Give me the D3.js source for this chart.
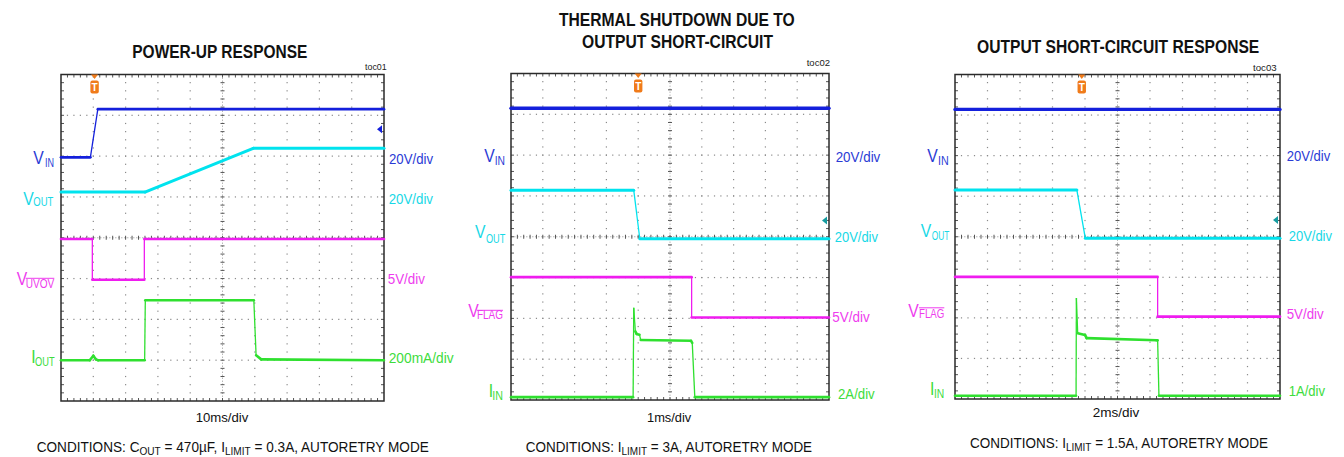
<!DOCTYPE html>
<html><head><meta charset="utf-8">
<script src="https://cdn.jsdelivr.net/npm/d3@7"></script>
<style>html,body{margin:0;padding:0;background:#fff;}svg{display:block;}</style>
</head><body>
<svg id="c" width="1344" height="457"></svg>
<script>
// ================= DATA =================
const titles1 = ["POWER-UP RESPONSE"];
const titles2 = ["THERMAL SHUTDOWN DUE TO", "OUTPUT SHORT-CIRCUIT"];
const titles3 = ["OUTPUT SHORT-CIRCUIT RESPONSE"];
const tocLabels = ["toc01", "toc02", "toc03"];
const timeLabels = ["10ms/div", "1ms/div", "2ms/div"];
const msPerDiv = [10, 1, 2];
const trigTimes = [10.4, 4.0, 7.8];          // ms
const offsetLevels = [6.66, 4.4, 4.41];      // divisions from bottom

const leftLabels1 = [["V","IN"],["V","OUT"],["V","UVOV"],["I","OUT"]];
const leftLabels2 = [["V","IN"],["V","OUT"],["V","FLAG"],["I","IN"]];
const leftLabels3 = [["V","IN"],["V","OUT"],["V","FLAG"],["I","IN"]];
const rightLabels1 = ["20V/div","20V/div","5V/div","200mA/div"];
const rightLabels2 = ["20V/div","20V/div","5V/div","2A/div"];
const rightLabels3 = ["20V/div","20V/div","5V/div","1A/div"];

const cond1 = [["CONDITIONS: C",0],["OUT",1],[" = 470µF, I",0],["LIMIT",1],[" = 0.3A, AUTORETRY MODE",0]];
const cond2 = [["CONDITIONS: I",0],["LIMIT",1],[" = 3A, AUTORETRY MODE",0]];
const cond3 = [["CONDITIONS: I",0],["LIMIT",1],[" = 1.5A, AUTORETRY MODE",0]];

// traces: [time ms, level in screen divisions above bottom edge]
const p1_vin  = [[0,5.97],[9.1,5.97],[11.4,7.15],[100,7.15]];
const p1_vout = [[0,5.12],[26.0,5.12],[59.5,6.19],[100,6.19]];
const p1_uvov = [[0,3.97],[9.7,3.97],[9.7,2.97],[25.8,2.97],[25.8,3.97],[100,3.97]];
const p1_iout = [[0,1.0],[8.9,1.0],[10.0,1.11],[10.8,1.02],[11.5,1.0],[25.9,1.0],[26.1,2.47],[59.7,2.47],[60.4,1.12],[62,1.02],[100,1.0]];

const p2_vin  = [[0,7.15],[10,7.15]];
const p2_vout = [[0,5.14],[3.86,5.14],[4.05,3.95],[10,3.95]];
const p2_flag = [[0,3.01],[5.68,3.01],[5.68,2.02],[10,2.02]];
const p2_iin  = [[0,0.07],[3.84,0.07],[3.86,2.26],[3.91,1.68],[3.95,1.62],[4.04,1.6],[4.08,1.47],[5.66,1.45],[5.70,1.40],[5.78,0.07],[10,0.07]];

const p3_vin  = [[0,7.14],[20,7.14]];
const p3_vout = [[0,5.15],[7.5,5.15],[8.02,3.96],[20,3.96]];
const p3_flag = [[0,3.01],[12.47,3.01],[12.47,2.03],[20,2.03]];
const p3_iin  = [[0,0.08],[7.45,0.08],[7.47,2.49],[7.55,1.62],[8.0,1.58],[8.1,1.5],[12.4,1.45],[12.47,1.45],[12.55,0.08],[20,0.08]];

// ================= STYLE / LAYOUT =================
const FONT = "'Liberation Sans', Arial, Helvetica, sans-serif";
const C = {blueT:"#1420dc", blueL:"#2a3bd5", cyanT:"#00e3ee", cyanL:"#18d8e6",
           magT:"#ef1cef", magL:"#ee3cee", greenT:"#2fe02f", greenL:"#3ddc3d",
           orange:"#f07b1a", teal:"#149ca0"};
const svg = d3.select("#c");

const panels = [
 { box:{l:61,r:384,t:74.5,b:401}, ms:msPerDiv[0],
   traces:[[p1_vin,C.blueT,2.7],[p1_vout,C.cyanT,3],[p1_uvov,C.magT,2.6],[p1_iout,C.greenT,2.6]],
   trig:trigTimes[0], arrow:{lvl:offsetLevels[0], c:C.blueT},
   titles:[{s:titles1[0], x:132.3, w:175, y:58.3}],
   toc:{s:tocLabels[0], x:365, w:21.7, y:70},
   left:[{lab:leftLabels1[0], bx:33.3, by:164, sx:45, sw:9, sy:166.7, c:C.blueL},
         {lab:leftLabels1[1], bx:23.3, by:205, sx:33.3, sw:20, sy:205.7, c:C.cyanL},
         {lab:leftLabels1[2], bx:16.7, by:285, sx:25.7, sw:28.6, sy:288.3, oy:278.3, c:C.magL},
         {lab:leftLabels1[3], bx:31.2, by:363.3, sx:35, sw:19.6, sy:365.7, c:C.greenL}],
   right:[{s:rightLabels1[0], x:389, w:44, y:164, c:C.blueL},
          {s:rightLabels1[1], x:388.7, w:44.3, y:204.3, c:C.cyanL},
          {s:rightLabels1[2], x:387.7, w:37.3, y:284, c:C.magL},
          {s:rightLabels1[3], x:388.7, w:65, y:362.7, c:C.greenL}],
   time:{s:timeLabels[0], x:195.7, w:52.6, y:422.3},
   cond:{parts:cond1, x:36.7, w:392.3, y:452}
 },
 { box:{l:511,r:829,t:73.5,b:400}, ms:msPerDiv[1],
   traces:[[p2_vin,C.blueT,3.4],[p2_vout,C.cyanT,3],[p2_flag,C.magT,2.6],[p2_iin,C.greenT,2.6]],
   trig:trigTimes[1], arrow:{lvl:offsetLevels[1], c:C.teal},
   titles:[{s:titles2[0], x:559, w:235.7, y:25.7},{s:titles2[1], x:582, w:191, y:47.7}],
   toc:{s:tocLabels[1], x:806.7, w:23.3, y:65.5},
   left:[{lab:leftLabels2[0], bx:484.2, by:161.7, sx:494.7, sw:10.3, sy:165, c:C.blueL},
         {lab:leftLabels2[1], bx:475, by:238.3, sx:486, sw:19.3, sy:242.7, c:C.cyanL},
         {lab:leftLabels2[2], bx:468.2, by:316.7, sx:477, sw:26, sy:319.3, oy:310.3, c:C.magL},
         {lab:leftLabels2[3], bx:488.7, by:397.3, sx:492.3, sw:10.7, sy:400, c:C.greenL}],
   right:[{s:rightLabels2[0], x:835.7, w:44.6, y:162.3, c:C.blueL},
          {s:rightLabels2[1], x:834.7, w:43.3, y:241.7, c:C.cyanL},
          {s:rightLabels2[2], x:832.3, w:37.4, y:322.3, c:C.magL},
          {s:rightLabels2[3], x:838, w:36.7, y:399, c:C.greenL}],
   time:{s:timeLabels[1], x:647, w:44.3, y:422.3},
   cond:{parts:cond2, x:525.7, w:286.6, y:452.3}
 },
 { box:{l:955,r:1280,t:74.5,b:399}, ms:msPerDiv[2],
   traces:[[p3_vin,C.blueT,3.4],[p3_vout,C.cyanT,3],[p3_flag,C.magT,2.6],[p3_iin,C.greenT,2.6]],
   trig:trigTimes[2], arrow:{lvl:offsetLevels[2], c:C.teal},
   titles:[{s:titles3[0], x:977, w:282.3, y:53.3}],
   toc:{s:tocLabels[2], x:1253, w:23.7, y:70.5},
   left:[{lab:leftLabels3[0], bx:927.2, by:161.7, sx:938, sw:10.7, sy:165, c:C.blueL},
         {lab:leftLabels3[1], bx:920.7, by:236.7, sx:931.7, sw:17.6, sy:240, c:C.cyanL},
         {lab:leftLabels3[2], bx:908.2, by:316.7, sx:919, sw:25.3, sy:317.8, oy:307.8, c:C.magL},
         {lab:leftLabels3[3], bx:930, by:395, sx:934, sw:10.3, sy:397.7, c:C.greenL}],
   right:[{s:rightLabels3[0], x:1286.7, w:43.6, y:160.7, c:C.blueL},
          {s:rightLabels3[1], x:1288.7, w:43.3, y:240.7, c:C.cyanL},
          {s:rightLabels3[2], x:1286.7, w:37, y:319, c:C.magL},
          {s:rightLabels3[3], x:1288.7, w:36.3, y:396, c:C.greenL}],
   time:{s:timeLabels[2], x:1092.7, w:46.6, y:416.7},
   cond:{parts:cond3, x:970, w:298.3, y:447.7}
 }
];

function fitText(g, s, x, y, w, size, color, weight) {
  const t = g.append("text").attr("x", x).attr("y", y).text(s)
    .attr("font-family", FONT).attr("font-size", size).attr("fill", color)
    .attr("font-weight", weight || "normal");
  if (w) t.attr("textLength", w).attr("lengthAdjust", "spacingAndGlyphs");
  return t;
}

function drawGrid(g, xs, ys) {
  const x0 = xs.range()[0], x1 = xs.range()[1];
  const yb = ys(0), yt = ys(8);
  const dx = (x1 - x0) / 10, dy = (yb - yt) / 8;
  const dots = [];
  for (let i = 1; i < 10; i++) { if (i === 5) continue; for (let j = 1; j < 40; j++) dots.push([x0 + i*dx, yt + j*dy/5]); }
  for (let k = 1; k < 8; k++) { if (k === 4) continue; for (let j = 1; j < 50; j++) dots.push([x0 + j*dx/5, yt + k*dy]); }
  g.append("g").selectAll("rect").data(dots).join("rect")
    .attr("x", d => d[0]-0.6).attr("y", d => d[1]-0.6).attr("width", 1.2).attr("height", 1.2).attr("fill", "#8a8a8a");
  const cx = x0 + 5*dx, cy = yt + 4*dy;
  g.append("line").attr("x1", cx).attr("x2", cx).attr("y1", yt).attr("y2", yb)
    .attr("stroke", "#b8b8b8").attr("stroke-width", 1).attr("stroke-dasharray", "1.5,1.5");
  g.append("line").attr("x1", x0).attr("x2", x1).attr("y1", cy).attr("y2", cy)
    .attr("stroke", "#b8b8b8").attr("stroke-width", 1).attr("stroke-dasharray", "1.5,1.5");
  const tk = g.append("g").attr("stroke", "#555").attr("stroke-width", 1);
  for (let j = 1; j < 40; j++) {
    const y = yt + j*dy/5;
    tk.append("line").attr("x1", cx-2).attr("x2", cx+2).attr("y1", y).attr("y2", y);
    tk.append("line").attr("x1", x0).attr("x2", x0+3).attr("y1", y).attr("y2", y);
    tk.append("line").attr("x1", x1-3).attr("x2", x1).attr("y1", y).attr("y2", y);
  }
  for (let j = 1; j < 50; j++) {
    const x = x0 + j*dx/5;
    tk.append("line").attr("x1", x).attr("x2", x).attr("y1", cy-2).attr("y2", cy+2);
    tk.append("line").attr("x1", x).attr("x2", x).attr("y1", yt).attr("y2", yt+3);
    tk.append("line").attr("x1", x).attr("x2", x).attr("y1", yb-3).attr("y2", yb);
  }
  g.append("rect").attr("x", x0).attr("y", yt).attr("width", x1-x0).attr("height", yb-yt)
    .attr("fill", "none").attr("stroke", "#2a2a2a").attr("stroke-width", 1.5);
}

function drawTrace(g, data, xs, ys, color, w) {
  const segs = d3.pairs(data);
  segs.forEach(([a, b]) => {
    const X1 = xs(a[0]), Y1 = ys(a[1]), X2 = xs(b[0]), Y2 = ys(b[1]);
    const steep = Math.abs(Y2 - Y1) > 3 * Math.max(Math.abs(X2 - X1), 0.01);
    g.append("line").attr("x1", X1).attr("y1", Y1).attr("x2", X2).attr("y2", Y2)
      .attr("stroke", color).attr("stroke-width", steep ? 1.3 : w)
      .attr("stroke-linecap", steep ? "butt" : "round");
  });
}

panels.forEach(p => {
  const g = svg.append("g");
  const xs = d3.scaleLinear().domain([0, 10 * p.ms]).range([p.box.l, p.box.r]);
  const ys = d3.scaleLinear().domain([0, 8]).range([p.box.b, p.box.t]);
  drawGrid(g, xs, ys);
  p.traces.forEach(([d, c, w]) => drawTrace(g, d, xs, ys, c, w));

  const tx = xs(p.trig), tt = ys(8);
  g.append("path").attr("d", `M${tx-3.5},${tt} L${tx+3.5},${tt} L${tx},${tt+4.5} Z`).attr("fill", C.orange);
  g.append("rect").attr("x", tx-4.2).attr("y", tt+6).attr("width", 8.4).attr("height", 13).attr("rx", 2).attr("fill", C.orange);
  g.append("text").attr("x", tx).attr("y", tt+16.8).attr("text-anchor", "middle").text("T")
    .attr("font-family", FONT).attr("font-size", 10).attr("font-weight", "bold").attr("fill", "#fff");

  const ax = xs(10 * p.ms) - 2, ay = ys(p.arrow.lvl);
  g.append("path").attr("d", `M${ax},${ay-4} L${ax},${ay+4} L${ax-5},${ay} Z`).attr("fill", p.arrow.c);

  p.titles.forEach(t => fitText(g, t.s, t.x, t.y, t.w, 18, "#111", "bold"));
  fitText(g, p.toc.s, p.toc.x, p.toc.y, p.toc.w, 9.5, "#222");

  p.left.forEach(L => {
    fitText(g, L.lab[0], L.bx, L.by, null, 17.5, L.c).attr("transform", `translate(${L.bx},0) scale(0.9,1) translate(${-L.bx},0)`);
    fitText(g, L.lab[1], L.sx, L.sy, L.sw, 13, L.c);
    if (L.oy) g.append("line").attr("x1", L.sx).attr("x2", L.sx + L.sw).attr("y1", L.oy).attr("y2", L.oy)
      .attr("stroke", L.c).attr("stroke-width", 1);
  });
  p.right.forEach(R => fitText(g, R.s, R.x, R.y, R.w, 14, R.c));
  fitText(g, p.time.s, p.time.x, p.time.y, p.time.w, 13.5, "#111");
  const ct = g.append("text").attr("x", p.cond.x).attr("y", p.cond.y)
    .attr("font-family", FONT).attr("font-size", 15.5).attr("fill", "#111");
  p.cond.parts.forEach(([s, sub], i) => {
    const prevSub = i > 0 && p.cond.parts[i-1][1];
    ct.append("tspan").text(s).attr("font-size", sub ? 11.5 : 15.5)
      .attr("dy", sub ? 3 : (prevSub ? -3 : 0));
  });
  const len = ct.node().getComputedTextLength();
  const sx = p.cond.w / len;
  ct.attr("transform", `translate(${p.cond.x},0) scale(${sx},1) translate(${-p.cond.x},0)`);
});
</script>
</body></html>
